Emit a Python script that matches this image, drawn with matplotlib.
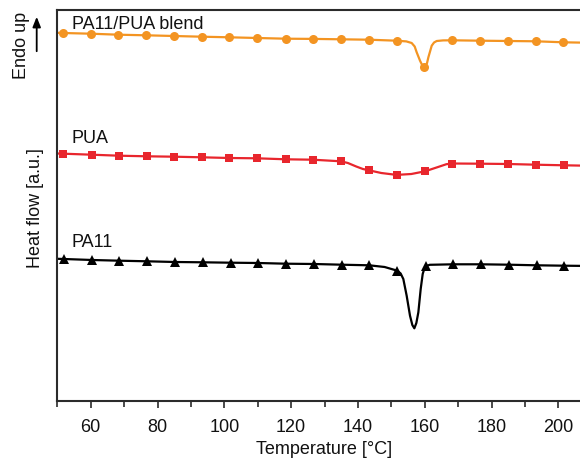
import matplotlib
matplotlib.use("Agg")
import matplotlib.pyplot as plt
from matplotlib.ticker import MultipleLocator
import numpy as np

plt.rcParams['font.family'] = ['Liberation Sans', 'DejaVu Sans']

# ---- data (heat flow, arbitrary units) ----
# marker points
blend_mark_T = [51.8, 60.0, 68.3, 76.6, 84.9, 93.2, 101.5, 109.9, 118.4, 126.5,
                134.9, 143.3, 151.6, 159.9, 168.3, 176.7, 185.0, 193.3, 201.5]
blend_mark_H = [36.80, 36.73, 36.63, 36.57, 36.50, 36.43, 36.37, 36.30, 36.23, 36.21,
                36.17, 36.13, 36.03, 33.43, 36.07, 36.03, 36.00, 35.97, 35.87]
# additional curve points (peak region and ends)
blend_extra_T = [50.0, 154.5, 156.1, 157.0, 157.6, 158.1, 158.6, 159.2, 159.5,
                 160.3, 160.7, 161.1, 161.6, 162.1, 162.8, 163.6, 165.5, 210.0]
blend_extra_H = [36.82, 35.96, 35.80, 35.45, 34.87, 34.45, 34.03, 33.62, 33.48,
                 33.50, 33.80, 34.37, 34.95, 35.53, 35.85, 36.00, 36.06, 35.82]

pua_mark_T = [51.8, 60.3, 68.5, 76.8, 85.0, 93.3, 101.5, 109.7, 118.4, 126.5,
              134.9, 143.3, 151.6, 160.1, 168.3, 176.7, 185.0, 193.3, 201.8]
pua_mark_H = [24.73, 24.63, 24.53, 24.47, 24.43, 24.37, 24.30, 24.27, 24.17, 24.13,
              23.97, 23.07, 22.61, 22.97, 23.75, 23.73, 23.70, 23.63, 23.57]
pua_extra_T = [50.0, 137.0, 139.5, 141.5, 147.0, 156.0, 164.0, 166.5, 210.0]
pua_extra_H = [24.75, 23.80, 23.45, 23.20, 22.80, 22.70, 23.40, 23.68, 23.52]

pa11_mark_T = [52.0, 60.5, 68.6, 76.9, 85.3, 93.5, 101.9, 110.2, 118.4, 126.9,
               135.1, 143.4, 151.8, 160.3, 168.6, 176.9, 185.2, 193.5, 201.8]
pa11_mark_H = [14.20, 14.10, 14.03, 13.97, 13.90, 13.87, 13.83, 13.80, 13.73, 13.70,
               13.63, 13.57, 13.03, 13.47, 13.67, 13.67, 13.63, 13.57, 13.53]
pa11_extra_T = [50.0, 148.0, 152.8, 153.6, 154.6, 155.6, 156.3, 156.9, 157.5,
                158.1, 158.8, 159.4, 159.9, 161.5, 210.0]
pa11_extra_H = [14.22, 13.40, 12.75, 12.20, 10.53, 8.53, 7.60, 7.27, 7.80,
                8.87, 11.20, 12.70, 13.25, 13.62, 13.50]

labels = ["PA11/PUA blend", "PUA", "PA11"]
label_H = [37.27, 25.87, 15.53]
label_T = 54.3

xticks = [60, 80, 100, 120, 140, 160, 180, 200]


def curve(mt, mh, et, eh):
    t = np.array(list(mt) + list(et))
    h = np.array(list(mh) + list(eh))
    o = np.argsort(t)
    return t[o], h[o]


fig = plt.figure(figsize=(5.8, 4.6), dpi=100)
ax = fig.add_axes([57.3 / 580, 58 / 460, (591.7 - 57.3) / 580, (402 - 11) / 460])

series = [
    (blend_mark_T, blend_mark_H, blend_extra_T, blend_extra_H, '#F39422', 'o', 6.5),
    (pua_mark_T, pua_mark_H, pua_extra_T, pua_extra_H, '#E8262D', 's', 6.0),
    (pa11_mark_T, pa11_mark_H, pa11_extra_T, pa11_extra_H, '#000000', '^', 6.5),
]
for mt, mh, et, eh, col, mk, ms in series:
    t, h = curve(mt, mh, et, eh)
    ax.plot(t, h, color=col, lw=1.6, solid_joinstyle='round', zorder=2)
    ax.plot(mt, mh, linestyle='none', marker=mk, color=col, ms=ms,
            markeredgewidth=0, zorder=3)

for lab, yh in zip(labels, label_H):
    ax.text(label_T, yh, lab, fontsize=13, va='baseline', ha='left', color='#111111')

ax.set_xlim(50, 210)
ax.set_ylim(0, 39.1)
ax.set_xticks(xticks)
ax.xaxis.set_minor_locator(MultipleLocator(10))
ax.tick_params(axis='x', which='major', length=5, width=1.2, pad=7,
               labelsize=13, color='#2b2b2b', labelcolor='#111111', direction='out')
ax.tick_params(axis='x', which='minor', length=4, width=1.2, color='#2b2b2b',
               direction='out')
ax.set_yticks([])
for s in ['left', 'top', 'bottom', 'right']:
    ax.spines[s].set_linewidth(1.5)
    ax.spines[s].set_color('#2b2b2b')

ax.set_xlabel("Temperature [°C]", fontsize=13, labelpad=4, color='#111111')

fig.text(36 / 580, 1 - 208 / 460, "Heat flow [a.u.]", rotation=90, fontsize=13,
         ha='center', va='center', color='#111111')
fig.text(21 / 580, 1 - 45 / 460, "Endo up", rotation=90, fontsize=13,
         ha='center', va='center', color='#111111')
fig.add_artist(matplotlib.patches.FancyArrowPatch(
    (36.7 / 580, 1 - 55 / 460), (36.7 / 580, 1 - 15 / 460),
    transform=fig.transFigure, arrowstyle='-|>,head_length=6,head_width=2.4',
    color='black', lw=1.3, mutation_scale=1))

fig.savefig("out.png", dpi=100)
